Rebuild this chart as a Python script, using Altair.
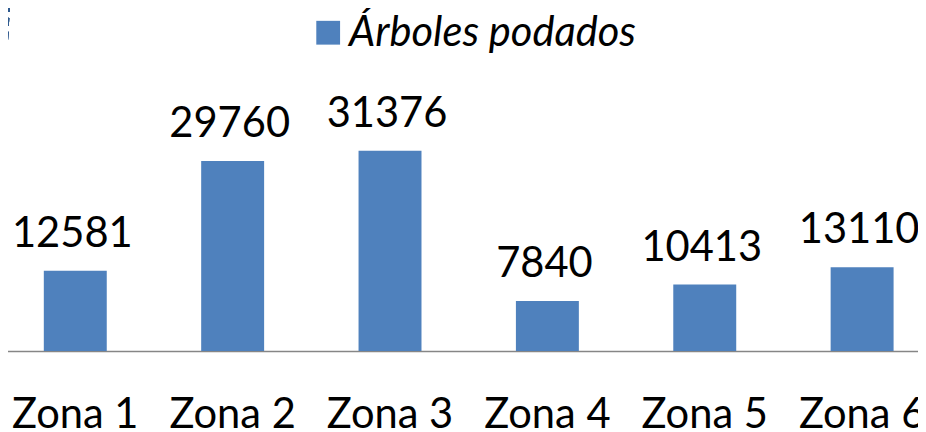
import altair as alt
import pandas as pd

zonas = ["Zona 1", "Zona 2", "Zona 3", "Zona 4", "Zona 5", "Zona 6"]
arboles = [12581, 29760, 31376, 7840, 10413, 13110]
serie = "Árboles podados"

df = pd.DataFrame({"zona": zonas, "valor": arboles, "serie": [serie] * len(zonas)})

FONT = "Lato"
FS = 42

x = alt.X(
    "zona:N",
    sort=zonas,
    title=None,
    scale=alt.Scale(range=[-11.5, 941], paddingInner=0.6, paddingOuter=0.3),
    axis=alt.Axis(
        labelAngle=0,
        ticks=False,
        labelFont=FONT,
        labelFontSize=FS,
        labelColor="#000000",
        labelBaseline="alphabetic",
        labelPadding=77,
        domainColor="#868686",
        domainWidth=1.5,
        grid=False,
    ),
)
y = alt.Y(
    "valor:Q",
    title=None,
    scale=alt.Scale(domain=[0, 53432], nice=False),
    axis=None,
)

bars = alt.Chart(df).mark_bar(color="#4F81BD").encode(
    x=x,
    y=y,
    color=alt.Color(
        "serie:N",
        scale=alt.Scale(range=["#4F81BD"]),
        legend=alt.Legend(
            title=None,
            orient="none",
            legendX=302,
            legendY=2,
            symbolType="square",
            symbolSize=576,
            symbolStrokeWidth=0,
            symbolOpacity=1,
            labelFont=FONT,
            labelFontSize=42,
            labelFontStyle="italic",
            labelColor="#000000",
            labelOffset=0,
            labelLimit=0,
        ),
    ),
)

labels = alt.Chart(df).mark_text(
    font=FONT, fontSize=FS, color="#000000", baseline="alphabetic", dy=-24, dx=-3
).encode(x=x, y=y, text=alt.Text("valor:Q", format="d"))

dash = alt.Chart(df).mark_rule(
    color="#2F5A8F", strokeDash=[8, 6], strokeWidth=1.5
).encode(
    x=alt.value(1.3), y=alt.value(-6), x2=alt.value(-8), y2=alt.value(165)
)

chart = (
    alt.layer(bars, labels, dash)
    .properties(
        width=918,
        height=344,
        autosize=alt.AutoSizeParams(type="none"),
        padding={"left": 0, "top": 0, "right": 0, "bottom": 100},
    )
    .configure_view(stroke=None)
)

chart.save("out.html", embed_options={"renderer": "svg", "actions": False})
